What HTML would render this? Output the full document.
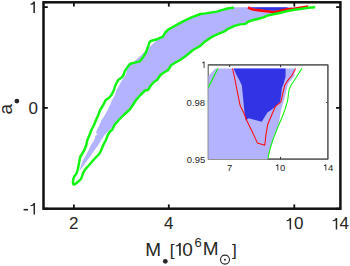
<!DOCTYPE html>
<html><head><meta charset="utf-8"><style>
html,body{margin:0;padding:0;background:#fff;width:350px;height:266px;overflow:hidden;}
svg{display:block;}
</style></head><body>
<svg width="350" height="266" viewBox="0 0 350 266">
<rect x="0" y="0" width="350" height="266" fill="#fff"/>
<clipPath id="mc"><rect x="43.5" y="2.3" width="296.9" height="206.39999999999998"/></clipPath>
<g clip-path="url(#mc)">
<polygon points="233.9,7.3 227.4,8.5 223.4,9.6 216.8,11.6 210.3,12.6 205.3,13.4 200.5,14.0 192.1,17.2 184.2,20.8 178.9,23.6 175.0,25.8 168.3,29.5 165.2,32.5 162.9,36.6 156.5,40.6 150.2,46.5 146.3,49.5 141.5,55.0 134.0,61.5 129.0,64.5 127.5,68.0 125.7,75.0 122.1,80.0 119.4,85.0 116.4,90.0 115.0,95.0 112.1,100.0 110.0,105.0 107.6,110.0 104.9,115.0 101.5,120.0 99.5,125.0 96.8,130.0 96.0,133.3 97.8,134.0 95.6,135.5 94.3,140.0 91.0,145.0 88.7,150.0 84.9,157.0 82.6,161.0 81.3,165.0 79.0,171.5 84.2,165.0 86.9,161.0 89.9,157.0 94.6,150.0 98.3,145.0 101.3,140.0 104.6,135.0 109.6,130.0 114.5,125.0 118.7,120.0 123.7,115.0 127.0,112.0 129.3,110.0 132.9,105.0 136.0,100.0 140.4,95.0 145.0,90.5 147.9,90.0 151.2,85.0 154.5,81.5 157.1,80.0 160.4,75.0 164.0,72.5 168.0,70.0 171.4,65.0 175.5,62.5 180.0,60.0 184.0,57.2 187.0,55.0 193.0,50.0 199.7,46.3 203.7,42.6 208.3,39.3 212.2,36.7 215.0,35.3 218.2,33.9 222.1,32.3 225.4,30.8 228.0,28.8 231.3,27.4 235.3,25.6 240.0,24.4 245.2,23.9 248.5,21.6 253.1,20.0 258.4,18.7 263.6,17.4 267.6,15.5 271.0,14.8 273.3,14.3 278.5,13.3 282.5,12.2 287.7,9.4 294.3,8.8 301.6,7.6 303.0,7.3" fill="#b3b3ff"/>
<polygon points="250.0,7.3 288.0,7.3 286.0,9.3 282.0,10.3 274.0,10.8 268.0,10.4 261.0,9.6 255.0,8.8 251.0,7.7" fill="#3333e6"/>
<polyline points="248.0,7.3 250.5,8.7 254.4,9.7 259.7,10.4 266.3,11.2 271.0,11.8 273.3,12.2 278.5,11.4 282.5,10.2 287.7,9.4 294.3,8.8 301.6,7.6 308.3,6.5" fill="none" stroke="#ff0a0a" stroke-width="2.6" stroke-linejoin="round" stroke-linecap="butt"/>
<polyline points="233.9,7.6 227.4,8.5 223.4,9.6 216.8,11.6 210.3,12.6 205.3,13.4 200.5,14.0 192.1,17.2 184.2,20.8 178.9,23.6 175.0,25.8 168.3,29.5 165.2,32.5 162.9,36.6 157.1,39.2 151.3,40.8 149.4,42.2 148.6,45.5 147.2,48.8 145.8,52.9 142.7,57.7 139.7,61.4 134.9,62.6 130.3,63.8 128.6,65.5 126.4,68.7 124.7,71.3 123.5,75.0 122.0,77.2 118.2,80.0 115.5,85.0 113.9,90.0 111.4,95.0 109.0,97.8 105.7,100.0 103.2,105.0 100.1,110.0 98.3,115.0 96.0,120.0 94.0,125.0 91.4,130.0 89.5,135.0 87.4,140.0 86.3,145.0 84.4,150.0 82.0,154.0 80.2,157.0 79.4,161.0 78.7,165.0 77.6,170.0 76.5,173.6 74.4,176.3 73.3,179.1 72.9,182.6 73.6,184.6 76.2,183.3 79.0,181.0 80.9,179.1 82.3,175.3 83.3,172.5 85.6,168.8 88.7,165.5 92.6,161.0 96.2,157.0 99.2,154.0 101.3,150.0 103.3,145.0 105.9,140.0 107.8,135.0 110.0,131.5 112.0,130.0 114.5,125.0 118.7,120.0 123.7,115.0 127.0,112.0 129.3,110.0 132.9,105.0 136.0,100.0 140.4,95.0 145.0,90.5 147.9,90.0 151.2,85.0 154.5,81.5 157.1,80.0 160.4,75.0 164.0,72.5 168.0,70.0 171.4,65.0 175.5,62.5 180.0,60.0 184.0,57.2 187.0,55.0 193.0,50.0 199.7,46.3 203.7,42.6 208.3,39.3 212.2,36.7 215.0,35.3 218.2,33.9 222.1,32.3 225.4,30.8 228.0,28.8 231.3,27.4 235.3,25.6 240.0,24.4 245.2,23.9 248.5,21.6 253.1,20.0 258.4,18.7 263.6,17.4 267.6,15.5 271.0,14.8 273.3,14.3 278.5,13.3 282.5,12.2 287.7,11.0 294.3,9.8 301.6,8.7 308.2,7.8 315.2,7.3" fill="none" stroke="#12f512" stroke-width="2.45" stroke-linejoin="round" stroke-linecap="butt"/>
</g>
<rect x="43.5" y="2.3" width="296.9" height="206.39999999999998" fill="none" stroke="#111" stroke-width="2.5"/>
<line x1="73.9" y1="208.7" x2="73.9" y2="204.39999999999998" stroke="#111" stroke-width="1.8"/>
<line x1="73.9" y1="2.3" x2="73.9" y2="6.6" stroke="#111" stroke-width="1.8"/>
<line x1="168.8" y1="208.7" x2="168.8" y2="204.39999999999998" stroke="#111" stroke-width="1.8"/>
<line x1="168.8" y1="2.3" x2="168.8" y2="6.6" stroke="#111" stroke-width="1.8"/>
<line x1="294.3" y1="208.7" x2="294.3" y2="204.39999999999998" stroke="#111" stroke-width="1.8"/>
<line x1="294.3" y1="2.3" x2="294.3" y2="6.6" stroke="#111" stroke-width="1.8"/>
<line x1="43.5" y1="7.1" x2="47.8" y2="7.1" stroke="#111" stroke-width="1.8"/>
<line x1="340.4" y1="7.1" x2="336.09999999999997" y2="7.1" stroke="#111" stroke-width="1.8"/>
<line x1="43.5" y1="107.9" x2="47.8" y2="107.9" stroke="#111" stroke-width="1.8"/>
<line x1="340.4" y1="107.9" x2="336.09999999999997" y2="107.9" stroke="#111" stroke-width="1.8"/>
<line x1="43.5" y1="208.7" x2="47.8" y2="208.7" stroke="#111" stroke-width="1.8"/>
<line x1="340.4" y1="208.7" x2="336.09999999999997" y2="208.7" stroke="#111" stroke-width="1.8"/>
<text x="69.0" y="229.4" font-family="Liberation Sans, sans-serif" font-size="17" fill="#262626">2</text>
<text x="164.0" y="229.4" font-family="Liberation Sans, sans-serif" font-size="17" fill="#262626">4</text>
<path d="M0.378,0L0.29,0L0.29,-0.52C0.245,-0.49 0.18,-0.48 0.115,-0.48L0.115,-0.55C0.21,-0.555 0.265,-0.6 0.295,-0.675L0.378,-0.675Z" transform="translate(284.70,229.40) scale(17)" fill="#262626"/>
<text x="294.1" y="229.4" font-family="Liberation Sans, sans-serif" font-size="17" fill="#262626">0</text>
<path d="M0.378,0L0.29,0L0.29,-0.52C0.245,-0.49 0.18,-0.48 0.115,-0.48L0.115,-0.55C0.21,-0.555 0.265,-0.6 0.295,-0.675L0.378,-0.675Z" transform="translate(330.80,229.40) scale(17)" fill="#262626"/>
<text x="339.6" y="229.4" font-family="Liberation Sans, sans-serif" font-size="17" fill="#262626">4</text>
<path d="M0.378,0L0.29,0L0.29,-0.52C0.245,-0.49 0.18,-0.48 0.115,-0.48L0.115,-0.55C0.21,-0.555 0.265,-0.6 0.295,-0.675L0.378,-0.675Z" transform="translate(28.50,13.00) scale(17)" fill="#262626"/>
<text x="28.4" y="113.8" font-family="Liberation Sans, sans-serif" font-size="17" fill="#262626">0</text>
<rect x="23.6" y="208.9" width="4.4" height="1.6" fill="#262626"/>
<path d="M0.378,0L0.29,0L0.29,-0.52C0.245,-0.49 0.18,-0.48 0.115,-0.48L0.115,-0.55C0.21,-0.555 0.265,-0.6 0.295,-0.675L0.378,-0.675Z" transform="translate(28.60,214.40) scale(17)" fill="#262626"/>
<text x="145.3" y="255.7" font-family="Liberation Sans, sans-serif" font-size="19" fill="#262626">M</text>
<circle cx="165.3" cy="261.3" r="2.4" fill="#262626"/>
<text x="169.7" y="255.7" font-family="Liberation Sans, sans-serif" font-size="17.2" fill="#262626">[</text>
<path d="M0.378,0L0.29,0L0.29,-0.52C0.245,-0.49 0.18,-0.48 0.115,-0.48L0.115,-0.55C0.21,-0.555 0.265,-0.6 0.295,-0.675L0.378,-0.675Z" transform="translate(173.60,255.70) scale(19)" fill="#262626"/>
<text x="182.3" y="255.7" font-family="Liberation Sans, sans-serif" font-size="19" fill="#262626">0</text>
<text x="194.6" y="246.6" font-family="Liberation Sans, sans-serif" font-size="13" fill="#262626">6</text>
<text x="202.7" y="255.4" font-family="Liberation Sans, sans-serif" font-size="19" fill="#262626">M</text>
<circle cx="225" cy="259.6" r="4.5" fill="none" stroke="#262626" stroke-width="1.1"/>
<circle cx="225" cy="259.7" r="1.0" fill="#262626"/>
<text x="231.9" y="255.7" font-family="Liberation Sans, sans-serif" font-size="17.2" fill="#262626">]</text>
<g transform="translate(11.8,114.55) rotate(-90)"><text x="0" y="0" font-family="Liberation Sans, sans-serif" font-size="19" fill="#262626">a</text></g>
<circle cx="16.9" cy="101.1" r="2.4" fill="#262626"/>
<rect x="208.2" y="64.9" width="119.69999999999999" height="94.19999999999999" fill="#fff"/>
<rect x="208.2" y="64.9" width="119.69999999999999" height="94.19999999999999" fill="none" stroke="#4d4d4d" stroke-width="1"/>
<clipPath id="ic"><rect x="208.2" y="64.9" width="119.69999999999999" height="94.19999999999999"/></clipPath>
<g clip-path="url(#ic)">
<polygon points="208.3,76.0 215.5,68.4 294.6,68.4 294.4,76.0 288.0,84.0 286.5,90.0 284.8,97.0 282.9,104.0 281.2,110.0 280.0,116.0 279.3,122.0 278.6,125.0 278.0,127.0 274.7,135.0 270.4,148.0 268.4,156.0 268.0,159.6 208.3,159.6" fill="#b3b3ff"/>
<polygon points="233.6,68.4 285.6,68.4 285.6,76.5 283.3,84.8 281.8,88.0 281.2,94.8 280.1,102.1 276.7,104.9 273.9,107.7 270.5,110.5 267.4,112.5 261.7,121.7 248.6,118.3 245.7,120.6 245.1,117.7 244.0,107.4 242.9,96.0 241.8,85.2 239.3,80.1 236.5,75.0" fill="#3333e6"/>
<polyline points="232.5,68.5 233.9,74.5 236.0,84.8 238.0,95.1 240.1,105.4 244.2,113.7 246.8,120.8 252.4,132.1 257.4,142.9 264.8,145.2 266.0,134.3 267.8,124.2 271.6,115.2 275.0,107.3 276.4,105.4 279.5,103.4 281.1,101.3 282.6,94.1 284.6,85.8 287.7,80.6 291.8,75.5 295.6,68.5" fill="none" stroke="#ff0a0a" stroke-width="1.05" stroke-linejoin="round"/>
<polyline points="217.8,68.5 208.1,87.9" fill="none" stroke="#12f512" stroke-width="1.2"/>
<polyline points="301.9,68.4 297.7,75.0 294.5,80.0 291.1,85.0 289.0,90.0 287.7,100.0 286.7,104.0 284.6,110.5 282.6,116.0 280.5,121.0 278.3,126.0 274.7,135.0 272.5,141.0 270.4,148.0 268.6,155.0 268.0,159.0" fill="none" stroke="#12f512" stroke-width="1.05" stroke-linejoin="round"/>
</g>
<line x1="208.2" y1="64.9" x2="327.9" y2="64.9" stroke="#4d4d4d" stroke-width="1"/>
<line x1="327.9" y1="64.9" x2="327.9" y2="159.1" stroke="#4d4d4d" stroke-width="1"/>
<line x1="267.9" y1="159.1" x2="327.9" y2="159.1" stroke="#4d4d4d" stroke-width="1"/>
<line x1="229.7" y1="64.9" x2="229.7" y2="67.10000000000001" stroke="#333" stroke-width="1.1"/>
<line x1="280.5" y1="64.9" x2="280.5" y2="67.10000000000001" stroke="#333" stroke-width="1.1"/>
<line x1="280.5" y1="159.1" x2="280.5" y2="156.9" stroke="#333" stroke-width="1.1"/>
<line x1="327.9" y1="102.5" x2="325.9" y2="102.5" stroke="#4d4d4d" stroke-width="1"/>
<path d="M0.378,0L0.29,0L0.29,-0.52C0.245,-0.49 0.18,-0.48 0.115,-0.48L0.115,-0.55C0.21,-0.555 0.265,-0.6 0.295,-0.675L0.378,-0.675Z" transform="translate(200.90,67.90) scale(9.5)" fill="#262626"/>
<text x="186.6" y="105.6" font-family="Liberation Sans, sans-serif" font-size="9.5" fill="#262626">0.98</text>
<text x="186.8" y="162.6" font-family="Liberation Sans, sans-serif" font-size="9.5" fill="#262626">0.95</text>
<text x="227.0" y="170.6" font-family="Liberation Sans, sans-serif" font-size="9.5" fill="#262626">7</text>
<path d="M0.378,0L0.29,0L0.29,-0.52C0.245,-0.49 0.18,-0.48 0.115,-0.48L0.115,-0.55C0.21,-0.555 0.265,-0.6 0.295,-0.675L0.378,-0.675Z" transform="translate(274.70,170.60) scale(9.5)" fill="#262626"/>
<text x="280.0" y="170.6" font-family="Liberation Sans, sans-serif" font-size="9.5" fill="#262626">0</text>
<path d="M0.378,0L0.29,0L0.29,-0.52C0.245,-0.49 0.18,-0.48 0.115,-0.48L0.115,-0.55C0.21,-0.555 0.265,-0.6 0.295,-0.675L0.378,-0.675Z" transform="translate(322.70,170.60) scale(9.5)" fill="#262626"/>
<text x="328.0" y="170.6" font-family="Liberation Sans, sans-serif" font-size="9.5" fill="#262626">4</text>
</svg>
</body></html>
